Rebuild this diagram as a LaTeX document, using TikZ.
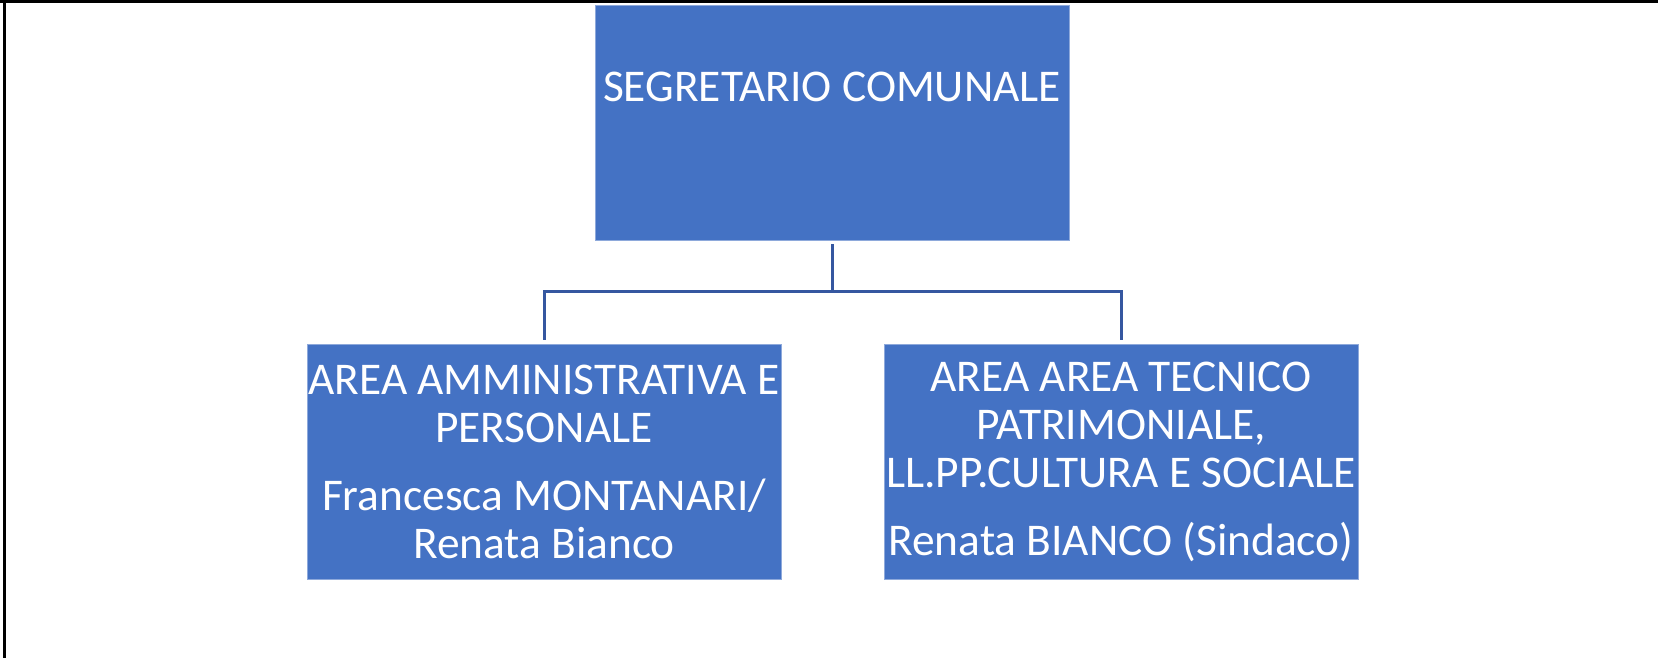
\documentclass[tikz,border=0pt]{standalone}
\usepackage{fontspec}
\setmainfont{Carlito}
\usetikzlibrary{positioning}
\definecolor{unitfill}{HTML}{4472C4}
\definecolor{unitedge}{HTML}{8EA9DB}
\definecolor{linkink}{HTML}{3557A0}
\tikzset{
  unit/.style={
    draw=unitedge,
    fill=unitfill,
    line width=0.5pt,
    text=white,
    align=center,
    inner sep=0pt,
    minimum width=237pt,
    minimum height=117.5pt,
    font=\fontsize{22.7pt}{24pt}\selectfont
  },
  head/.style={unit, text height=48pt, text depth=69.5pt},
  link/.style={draw=linkink, line width=1.5pt, shorten <=1.5pt, shorten >=2pt},
  frame/.style={draw=black, line width=1.5pt}
}

\begin{document}
\begin{tikzpicture}[x=0.5pt, y=-0.5pt]

\useasboundingbox (0,0) rectangle (1658,658);
\draw[frame] (0,2) -- (1658,2);
\draw[frame] (4,0) -- (4,658);

\node[head, anchor=north] (segretario) at (832,5) {SEGRETARIO COMUNALE};

\node[unit, below=51.5pt of segretario, xshift=-144pt] (amministrativa) {
  AREA AMMINISTRATIVA E\\
  PERSONALE\\[10pt]
  Francesca MONTANARI/\\
  Renata Bianco
};

\node[unit, right=51pt of amministrativa] (tecnico) {
  AREA AREA TECNICO\\
  PATRIMONIALE,\\
  LL.PP.CULTURA E SOCIALE\\[10pt]
  Renata BIANCO (Sindaco)
};

\coordinate[below=25pt of segretario.south] (fork);

\draw[link] (segretario.south) -- (fork) -| (amministrativa.north);
\draw[link] (segretario.south) -- (fork) -| (tecnico.north);

\end{tikzpicture}
\end{document}
